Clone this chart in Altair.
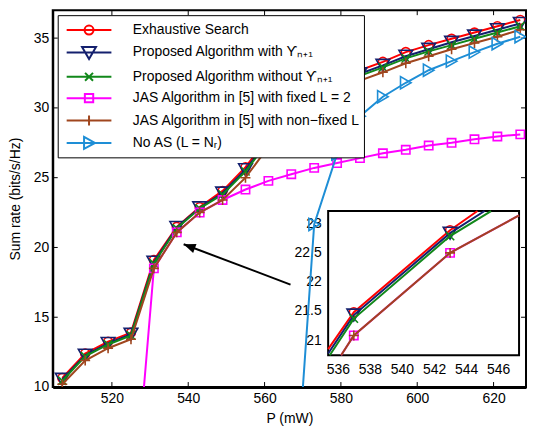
import math
import altair as alt
import pandas as pd

# ---------------- data ----------------
P = [507, 513, 519, 525, 531, 537, 543, 549, 555, 561, 567,
     573, 579, 585, 591, 597, 603, 609, 615, 621, 627]
exhaustive = [10.65, 12.4, 13.25, 13.9, 19.1, 21.48, 22.89, 24.05, 25.75, 27.9, 29.4,
              30.6, 31.7, 32.7, 33.3, 34.0, 34.5, 34.95, 35.4, 35.85, 36.3]
proposed_with = [10.55, 12.28, 13.12, 13.78, 18.95, 21.43, 22.84, 23.9, 25.57, 27.7, 29.2,
                 30.4, 31.5, 32.45, 33.05, 33.7, 34.2, 34.7, 35.15, 35.6, 36.05]
proposed_without = [10.45, 12.2, 13.05, 13.7, 18.85, 21.37, 22.79, 23.8, 25.45, 27.6, 29.1,
                    30.3, 31.4, 32.3, 32.9, 33.55, 34.05, 34.5, 34.95, 35.4, 35.85]
jas_nonfixed = [10.2, 11.9, 12.78, 13.42, 18.5, 21.08, 22.5, 23.4, 25.0, 27.2, 28.8,
                30.0, 31.0, 31.95, 32.55, 33.2, 33.7, 34.2, 34.65, 35.1, 35.6]
P_fixed = [525, 531, 537, 543, 549, 555, 561, 567, 573, 579, 585, 591, 597, 603, 609, 615, 621, 627]
jas_fixed = [-1.1, 18.5, 21.08, 22.5, 23.4, 24.15, 24.77, 25.25, 25.7, 26.05, 26.4, 26.75,
             27.0, 27.3, 27.5, 27.75, 27.95, 28.1]
P_noas = [567, 573, 579, 585, 591, 597, 603, 609, 615, 621, 627]
no_as = [-2.0, 21.65, 26.7, 29.4, 30.8, 31.8, 32.7, 33.35, 34.0, 34.6, 35.1]

names = ["Exhaustive Search",
         "Proposed Algorithm with \u03d2\u2099\u208a\u2081",
         "Proposed Algorithm without \u03d2\u2099\u208a\u2081",
         "JAS Algorithm in [5] with fixed L = 2",
         "JAS Algorithm in [5] with non\u2212fixed L",
         "No AS (L = N\u1d63)"]
series_x = [P, P, P, P_fixed, P, P_noas]
series_y = [exhaustive, proposed_with, proposed_without, jas_fixed, jas_nonfixed, no_as]
colors = ["#FF0000", "#14206E", "#11881A", "#FF00FF", "#A0461E", "#1E8ED6"]

x_ticks = [520, 540, 560, 580, 600, 620]
y_ticks = [10, 15, 20, 25, 30, 35]
x_domain = [504.5, 628.5]
y_domain = [10, 37]

inset_x_domain = [535.4, 547.3]
inset_y_domain = [20.74, 23.22]
inset_x_ticks = [536, 538, 540, 542, 544, 546]
inset_y_ticks = [21, 21.5, 22, 22.5, 23]

arrow_P = [566.8, 538.8]      # tail, head
arrow_v = [17.34, 20.23]

# ---------------- styling ----------------
FONT = "Liberation Sans"
W, H = 476, 379
INSET_RANGE_X = [277.0, 469.0]
INSET_RANGE_Y = [347, 202]

marker_shapes = ["circle", "triangle-down", "M-1,-1L1,1M-1,1L1,-1", "square",
                 "M-1,0H1M0,-1V1", "triangle-right"]
marker_sizes = [80, 190, 70, 70, 100, 150]

line_path = "M-2.25,0H2.25"
legend_paths = [
    line_path + "M0.45,0A0.45,0.45 0 1,1 -0.45,0A0.45,0.45 0 1,1 0.45,0",
    line_path + "M-0.7,-0.55L0.7,-0.55L0,0.65Z",
    line_path + "M-0.4,-0.4L0.4,0.4M-0.4,0.4L0.4,-0.4",
    line_path + "M-0.42,-0.42H0.42V0.42H-0.42Z",
    line_path + "M-0.5,0H0.5M0,-0.5V0.5",
    line_path + "M-0.5,-0.6L0.6,0L-0.5,0.6Z",
]

xs = alt.Scale(domain=x_domain, nice=False, zero=False)
ys = alt.Scale(domain=y_domain, nice=False, zero=False)
x_axis = alt.Axis(orient="bottom", values=x_ticks, ticks=False, grid=False, domainWidth=3,
                  domainColor="black", labelFont=FONT, labelFontSize=14, labelColor="black",
                  labelPadding=5, format="d", title="P (mW)", titleFont=FONT, titleFontSize=14,
                  titleFontWeight="normal", titleColor="black", titlePadding=6)
y_axis = alt.Axis(orient="left", values=y_ticks, ticks=False, grid=False, domainWidth=2,
                  domainColor="black", labelFont=FONT, labelFontSize=14, labelColor="black",
                  labelPadding=4, format="d", title="Sum rate (bits/s/Hz)", titleFont=FONT,
                  titleFontSize=14, titleFontWeight="normal", titleColor="black", titlePadding=11)


def X(field="P"):
    return alt.X(f"{field}:Q", scale=xs, axis=x_axis)


def Y(field="v"):
    return alt.Y(f"{field}:Q", scale=ys, axis=y_axis)


main_layers = []

# inward ticks (MATLAB style box)
xt_df = pd.DataFrame({"P": x_ticks})
yt_df = pd.DataFrame({"v": y_ticks})
main_layers.append(alt.Chart(xt_df).mark_rule(color="black", strokeWidth=1).encode(
    x=X(), y=alt.value(H), y2=alt.value(H - 5)))
main_layers.append(alt.Chart(xt_df).mark_rule(color="black", strokeWidth=1).encode(
    x=X(), y=alt.value(0), y2=alt.value(5)))
main_layers.append(alt.Chart(yt_df).mark_rule(color="black", strokeWidth=1).encode(
    y=Y(), x=alt.value(0), x2=alt.value(5)))
main_layers.append(alt.Chart(yt_df).mark_rule(color="black", strokeWidth=1).encode(
    y=Y(), x=alt.value(W), x2=alt.value(W - 5)))

for i in range(6):
    df = pd.DataFrame({"P": series_x[i], "v": series_y[i]})
    main_layers.append(alt.Chart(df).mark_line(color=colors[i], strokeWidth=2, clip=True).encode(
        x=X(), y=Y()))
    main_layers.append(alt.Chart(df).mark_point(
        shape=marker_shapes[i], size=marker_sizes[i], filled=False, color=colors[i],
        strokeWidth=1.6, opacity=1, clip=True).encode(x=X(), y=Y()))

# arrow
arrow_df = pd.DataFrame({"P": arrow_P, "v": arrow_v})
main_layers.append(alt.Chart(arrow_df).mark_line(color="black", strokeWidth=2).encode(x=X(), y=Y()))
kx = W / (x_domain[1] - x_domain[0])
ky = H / (y_domain[1] - y_domain[0])
dxp = (arrow_P[1] - arrow_P[0]) * kx
dyp = -(arrow_v[1] - arrow_v[0]) * ky
ang = math.degrees(math.atan2(dxp, -dyp)) % 360
head_df = pd.DataFrame({"P": [arrow_P[1]], "v": [arrow_v[1]]})
main_layers.append(alt.Chart(head_df).mark_point(
    shape="M0,0L-0.4,1L0.4,1Z", size=576, filled=True, color="black", opacity=1,
    angle=ang, strokeWidth=0).encode(x=X(), y=Y()))

# legend-only layer
leg = alt.Legend(orient="none", legendX=5, legendY=5, title=None, labelFont=FONT,
                 labelFontSize=14, labelColor="black", labelLimit=500, symbolSize=400,
                 symbolStrokeWidth=2, symbolOffset=16.5, labelOffset=33, padding=4,
                 rowPadding=2.5, strokeColor="black", fillColor="white", symbolOpacity=1,
                 symbolFillColor="transparent", cornerRadius=0)
leg_df = pd.DataFrame({"series": names, "P": [P[0]] * 6, "v": [exhaustive[0]] * 6})
main_layers.append(alt.Chart(leg_df).mark_point(filled=False, opacity=0, strokeWidth=2).encode(
    x=X(), y=Y(),
    color=alt.Color("series:N", scale=alt.Scale(domain=names, range=colors), legend=leg),
    shape=alt.Shape("series:N", scale=alt.Scale(domain=names, range=legend_paths), legend=leg)))

main = alt.layer(*main_layers)

# ---------------- inset ----------------
ixs = alt.Scale(domain=inset_x_domain, range=INSET_RANGE_X, nice=False, zero=False)
iys = alt.Scale(domain=inset_y_domain, range=INSET_RANGE_Y, nice=False, zero=False)
ix_axis = alt.Axis(orient="bottom", offset=-(H - INSET_RANGE_Y[0]), values=inset_x_ticks,
                   ticks=False, domain=False, grid=False, labelFont=FONT, labelFontSize=14,
                   labelColor="black", labelPadding=7, format="d", title=None)
iy_axis = alt.Axis(orient="left", offset=-INSET_RANGE_X[0], values=inset_y_ticks,
                   ticks=False, domain=False, grid=False, labelFont=FONT, labelFontSize=14,
                   labelColor="black", labelPadding=7, format="~g", title=None)


def IX(field="P"):
    return alt.X(f"{field}:Q", scale=ixs, axis=ix_axis)


def IY(field="v"):
    return alt.Y(f"{field}:Q", scale=iys, axis=iy_axis)


def clip_seg(p0, p1, box):
    x0, y0 = p0
    x1, y1 = p1
    xmin, xmax, ymin, ymax = box
    dx, dy = x1 - x0, y1 - y0
    t0, t1 = 0.0, 1.0
    for p, q in ((-dx, x0 - xmin), (dx, xmax - x0), (-dy, y0 - ymin), (dy, ymax - y0)):
        if p == 0:
            if q < 0:
                return None
        else:
            r = q / p
            if p < 0:
                if r > t1:
                    return None
                t0 = max(t0, r)
            else:
                if r < t0:
                    return None
                t1 = min(t1, r)
    return (x0 + t0 * dx, y0 + t0 * dy), (x0 + t1 * dx, y0 + t1 * dy)


box = (inset_x_domain[0], inset_x_domain[1], inset_y_domain[0], inset_y_domain[1])
frame_df = pd.DataFrame({"x0": [inset_x_domain[0]], "x1": [inset_x_domain[1]],
                         "y0": [inset_y_domain[0]], "y1": [inset_y_domain[1]]})
inset_layers = [alt.Chart(frame_df).mark_rect(fill="white", stroke="black", strokeWidth=2).encode(
    x=IX("x0"), x2="x1", y=IY("y0"), y2="y1")]

for i in range(6):
    xs_i, ys_i = series_x[i], series_y[i]
    rows = []
    seg = 0
    last = None
    for k in range(len(xs_i) - 1):
        c = clip_seg((xs_i[k], ys_i[k]), (xs_i[k + 1], ys_i[k + 1]), box)
        if c is None:
            last = None
            continue
        a, b = c
        if last is None or abs(last[0] - a[0]) > 1e-9 or abs(last[1] - a[1]) > 1e-9:
            seg += 1
            rows.append({"P": a[0], "v": a[1], "seg": seg, "o": len(rows)})
        rows.append({"P": b[0], "v": b[1], "seg": seg, "o": len(rows)})
        last = b
    if rows:
        ldf = pd.DataFrame(rows)
        inset_layers.append(alt.Chart(ldf).mark_line(color=colors[i], strokeWidth=2).encode(
            x=IX(), y=IY(), detail="seg:N", order="o:Q"))
    pts = pd.DataFrame({"P": xs_i, "v": ys_i})
    pts = pts[(pts.P >= box[0]) & (pts.P <= box[1]) & (pts.v >= box[2]) & (pts.v <= box[3])]
    if len(pts):
        inset_layers.append(alt.Chart(pts).mark_point(
            shape=marker_shapes[i], size=marker_sizes[i], filled=False, color=colors[i],
            strokeWidth=1.6, opacity=1).encode(x=IX(), y=IY()))

inset = alt.layer(*inset_layers)

chart = alt.layer(main, inset).resolve_scale(
    x="independent", y="independent"
).resolve_axis(
    x="independent", y="independent"
).properties(
    width=W, height=H, padding=0, background="white"
).configure_view(stroke="black", strokeWidth=2)

chart.save("out.html", embed_options={"renderer": "svg", "actions": False})
